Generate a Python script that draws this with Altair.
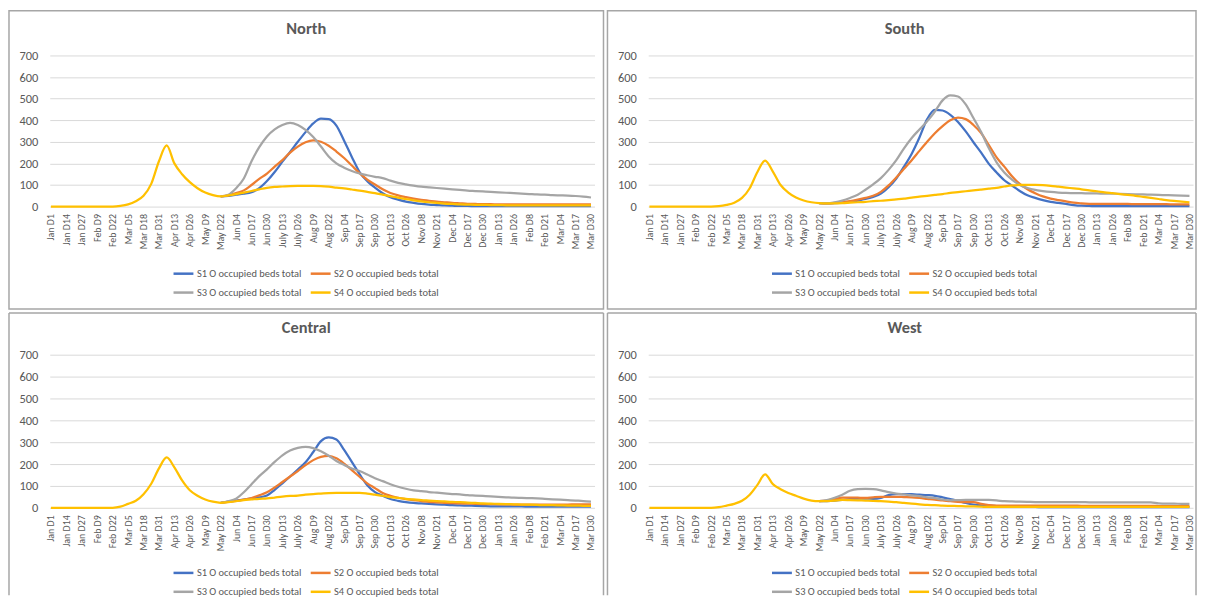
import altair as alt
import pandas as pd

tick_labels = ["Jan D1", "Jan D14", "Jan D27", "Feb D9", "Feb D22", "Mar D5", "Mar D18",
               "Mar D31", "Apr D13", "Apr D26", "May D9", "May D22", "Jun D4", "Jun D17",
               "Jun D30", "July D13", "July D26", "Aug D9", "Aug D22", "Sep D4", "Sep D17",
               "Sep D30", "Oct D13", "Oct D26", "Nov D8", "Nov D21", "Dec D4", "Dec D17",
               "Dec D30", "Jan D13", "Jan D26", "Feb D8", "Feb D21", "Mar D4", "Mar D17",
               "Mar D30"]
tick_days = [i * 13 for i in range(len(tick_labels))]
sample_days = [k * 6.5 for k in range(71)]   # half-tick sampling positions (days)

series_names = ["S1 O occupied beds total", "S2 O occupied beds total",
                "S3 O occupied beds total", "S4 O occupied beds total"]
series_colors = ["#4472C4", "#ED7D31", "#A5A5A5", "#FFC000"]

# ---- North (S1-S3 start at May D22; S4 full range)
north_s1 = [47, 50, 55, 60, 67, 85, 118, 160, 208, 253, 300, 345, 385, 407, 405, 375, 305, 230,
            160, 118, 88, 62, 43, 32, 23, 17, 12, 9, 7, 5, 4, 3, 3, 2, 2, 2, 2, 2, 2, 2, 2, 2,
            2, 2, 2, 2, 2, 2, 2]
north_s2 = [47, 52, 62, 75, 100, 128, 153, 185, 215, 250, 278, 298, 307, 300, 282, 255, 225, 190,
            155, 125, 102, 80, 63, 52, 44, 37, 31, 27, 23, 20, 17, 15, 13, 12, 11, 11, 10, 10,
            10, 10, 10, 10, 10, 10, 10, 10, 10, 10, 10]
north_s3 = [47, 55, 85, 130, 210, 275, 325, 358, 378, 388, 378, 355, 322, 278, 232, 200, 180, 165,
            153, 145, 138, 132, 120, 110, 103, 97, 92, 89, 86, 83, 80, 77, 74, 72, 70, 68, 66,
            64, 62, 60, 58, 56, 55, 53, 52, 51, 49, 46, 42]
north_s4 = [0, 0, 0, 0, 0, 0, 0, 0, 0, 3, 10, 25, 50, 105, 210, 283, 200, 150, 113, 85, 65, 53,
            47, 52, 58, 65, 72, 80, 87, 91, 93, 95, 96, 96, 96, 95, 92, 88, 84, 79, 74, 68, 62,
            55, 48, 41, 35, 29, 24, 20, 17, 14, 12, 10, 9, 8, 8, 7, 7, 6, 6, 6, 5, 5, 5, 5, 5,
            5, 5, 5, 5]

# ---- South
south_s1 = [16, 15, 16, 18, 22, 28, 35, 45, 60, 90, 130, 185, 245, 320, 405, 448, 445, 425, 392,
            348, 298, 250, 198, 158, 122, 97, 72, 52, 40, 30, 22, 17, 12, 7, 4, 3, 2, 2, 2, 2,
            2, 2, 2, 2, 2, 2, 2, 2, 2]
south_s2 = [16, 15, 17, 20, 25, 32, 40, 50, 68, 98, 135, 175, 215, 258, 300, 340, 373, 400, 412,
            405, 378, 340, 285, 228, 185, 140, 105, 80, 62, 47, 37, 30, 24, 18, 15, 13, 12, 12,
            12, 12, 12, 11, 11, 11, 11, 11, 10, 10, 10]
south_s3 = [16, 16, 20, 28, 40, 55, 78, 103, 132, 170, 215, 270, 318, 357, 395, 440, 492, 515,
            510, 473, 410, 345, 270, 205, 158, 125, 100, 86, 77, 72, 68, 65, 63, 62, 62, 61, 61,
            60, 60, 59, 58, 57, 56, 55, 54, 53, 52, 51, 50]
south_s4 = [0, 0, 0, 0, 0, 0, 0, 0, 0, 2, 8, 18, 40, 85, 160, 213, 162, 100, 65, 42, 28, 20, 16,
            15, 15, 16, 18, 20, 22, 25, 27, 30, 33, 37, 41, 46, 50, 54, 58, 63, 67, 71, 75, 79,
            83, 87, 93, 98, 100, 100, 100, 99, 96, 92, 88, 84, 80, 75, 71, 66, 62, 58, 54, 50,
            45, 40, 35, 30, 26, 23, 20]

# ---- Central
central_s1 = [23, 28, 33, 38, 43, 48, 56, 82, 112, 143, 175, 208, 255, 305, 322, 312, 265, 210,
              154, 103, 72, 55, 40, 32, 26, 22, 20, 18, 16, 14, 12, 11, 10, 9, 8, 7, 7, 6, 6, 6,
              5, 5, 5, 5, 5, 5, 5, 5, 5]
central_s2 = [23, 27, 31, 37, 45, 57, 71, 93, 118, 143, 168, 195, 218, 233, 237, 226, 202, 172,
              142, 112, 90, 68, 55, 46, 40, 35, 31, 27, 25, 23, 21, 20, 19, 18, 17, 17, 16, 16,
              15, 15, 15, 15, 15, 15, 15, 15, 16, 16, 16]
central_s3 = [23, 30, 42, 71, 108, 145, 176, 210, 240, 262, 274, 279, 273, 258, 238, 214, 196,
              180, 168, 152, 135, 122, 108, 96, 87, 80, 76, 72, 69, 66, 63, 61, 58, 56, 54, 52,
              50, 48, 46, 45, 44, 43, 41, 39, 37, 35, 33, 31, 28]
central_s4 = [0, 0, 0, 0, 0, 0, 0, 0, 0, 5, 18, 32, 62, 110, 180, 230, 185, 125, 80, 55, 38, 28,
              23, 26, 30, 35, 38, 41, 43, 47, 51, 54, 56, 60, 63, 65, 67, 68, 68, 68, 68, 65, 60,
              55, 49, 45, 41, 38, 35, 33, 31, 29, 27, 26, 24, 22, 20, 19, 18, 17, 16, 15, 14, 13,
              12, 12, 11, 10, 10, 9, 9]

# ---- West
west_s1 = [30, 31, 33, 36, 40, 42, 42, 41, 45, 58, 62, 62, 62, 60, 58, 55, 48, 40, 32, 22, 15,
           12, 10, 8, 6, 5, 4, 4, 4, 3, 3, 3, 3, 3, 3, 3, 3, 3, 3, 3, 3, 3, 3, 3, 3, 3, 3, 3, 3]
west_s2 = [30, 33, 40, 46, 47, 46, 45, 48, 50, 50, 50, 49, 48, 45, 41, 37, 34, 30, 27, 26, 26,
           18, 12, 10, 10, 10, 10, 10, 10, 10, 10, 10, 10, 10, 9, 9, 9, 9, 9, 9, 9, 9, 9, 9, 8,
           8, 8, 8, 8]
west_s3 = [30, 35, 46, 60, 78, 85, 86, 85, 80, 72, 65, 61, 57, 53, 48, 44, 38, 34, 35, 36, 36,
           36, 36, 34, 30, 29, 28, 27, 26, 26, 26, 26, 26, 26, 26, 25, 25, 25, 25, 25, 25, 25,
           25, 25, 20, 19, 19, 18, 18]
west_s4 = [0, 0, 0, 0, 0, 0, 0, 0, 0, 3, 10, 18, 32, 60, 105, 153, 108, 85, 68, 55, 42, 33, 30,
           31, 33, 36, 35, 34, 33, 32, 30, 28, 26, 22, 19, 16, 13, 12, 10, 9, 8, 7, 6, 5, 4, 4,
           4, 4, 4, 4, 4, 4, 4, 4, 4, 4, 4, 4, 4, 4, 4, 4, 4, 4, 4, 4, 4, 4, 4, 4, 4]

regions = [
    ("North", [north_s1, north_s2, north_s3, north_s4]),
    ("South", [south_s1, south_s2, south_s3, south_s4]),
    ("Central", [central_s1, central_s2, central_s3, central_s4]),
    ("West", [west_s1, west_s2, west_s3, west_s4]),
]

FONT = "Carlito, Lato, sans-serif"
TEXT = "#595959"
BORDER = "#a6a6a6"
W = 548
label_expr = "[" + ",".join("'" + t + "'" for t in tick_labels) + "][round(datum.value / 13)]"
one = pd.DataFrame({"a": [0]})


def panel(name, lists, H, top, right, closed):
    rows = []
    for sname, vals in zip(series_names, lists):
        xs = sample_days[len(sample_days) - len(vals):]
        for d, v in zip(xs, vals):
            rows.append({"day": d, "value": v, "series": sname})
    df = pd.DataFrame(rows)

    lines = alt.Chart(df).mark_line(strokeWidth=2.25, interpolate="monotone").encode(
        x=alt.X("day:Q", scale=alt.Scale(domain=[-1, 458], nice=False, zero=False),
                axis=alt.Axis(title=None, values=tick_days, labelExpr=label_expr, labelAngle=270,
                              labelFontSize=10, labelColor=TEXT, labelFont=FONT, labelPadding=7,
                              ticks=False, domain=False, grid=False, labelOverlap=False,
                              labelFlush=False, labelBound=False)),
        y=alt.Y("value:Q", scale=alt.Scale(domain=[0, 700], nice=False),
                axis=alt.Axis(title=None, values=list(range(0, 701, 100)), grid=True,
                              gridColor="#d9d9d9", domain=False, ticks=False, labelFontSize=12.5,
                              labelColor=TEXT, labelFont=FONT, labelPadding=12)),
        color=alt.Color("series:N", scale=alt.Scale(domain=series_names, range=series_colors),
                        legend=alt.Legend(title=None, orient="none", legendX=123, legendY=208,
                                          direction="horizontal", columns=2,
                                          symbolType="stroke", symbolSize=400,
                                          symbolStrokeWidth=2.5, labelFontSize=10.5,
                                          labelColor=TEXT, labelFont=FONT, columnPadding=3,
                                          rowPadding=2, labelOffset=2, padding=0)),
    )
    title = alt.Chart(one).mark_text(fontSize=16.5, fontWeight="bold", color=TEXT, font=FONT,
                                     baseline="middle").encode(
        x=alt.value(258), y=alt.value(-26.5), text=alt.value(name))
    if closed:
        border = alt.Chart(one).mark_rect(fillOpacity=0, stroke=BORDER, strokeWidth=1.5).encode(
            x=alt.value(-41), x2=alt.value(W + right), y=alt.value(-top), y2=alt.value(H + 103))
        layers = [border, lines, title]
    else:
        bottom = H + 88
        b1 = alt.Chart(one).mark_rule(stroke=BORDER, strokeWidth=1.5).encode(
            x=alt.value(-41), y=alt.value(-top), y2=alt.value(bottom))
        b2 = alt.Chart(one).mark_rule(stroke=BORDER, strokeWidth=1.5).encode(
            x=alt.value(W + right), y=alt.value(-top), y2=alt.value(bottom))
        b3 = alt.Chart(one).mark_rule(stroke=BORDER, strokeWidth=1.5).encode(
            x=alt.value(-41), x2=alt.value(W + right), y=alt.value(-top))
        layers = [b1, b2, b3, lines, title]
    return alt.layer(*layers).properties(width=W, height=H)


cells = [
    panel("North", regions[0][1], 152, 45, 9, True),
    panel("South", regions[1][1], 152, 45, 3, True),
    panel("Central", regions[2][1], 154, 42, 9, False),
    panel("West", regions[3][1], 154, 42, 3, False),
]

chart = alt.concat(*cells, columns=2, spacing=2).resolve_scale(
    color="independent").configure_view(stroke=None).properties(padding=0, background="white")

chart.save("out.html", embed_options={"renderer": "svg", "actions": False})
